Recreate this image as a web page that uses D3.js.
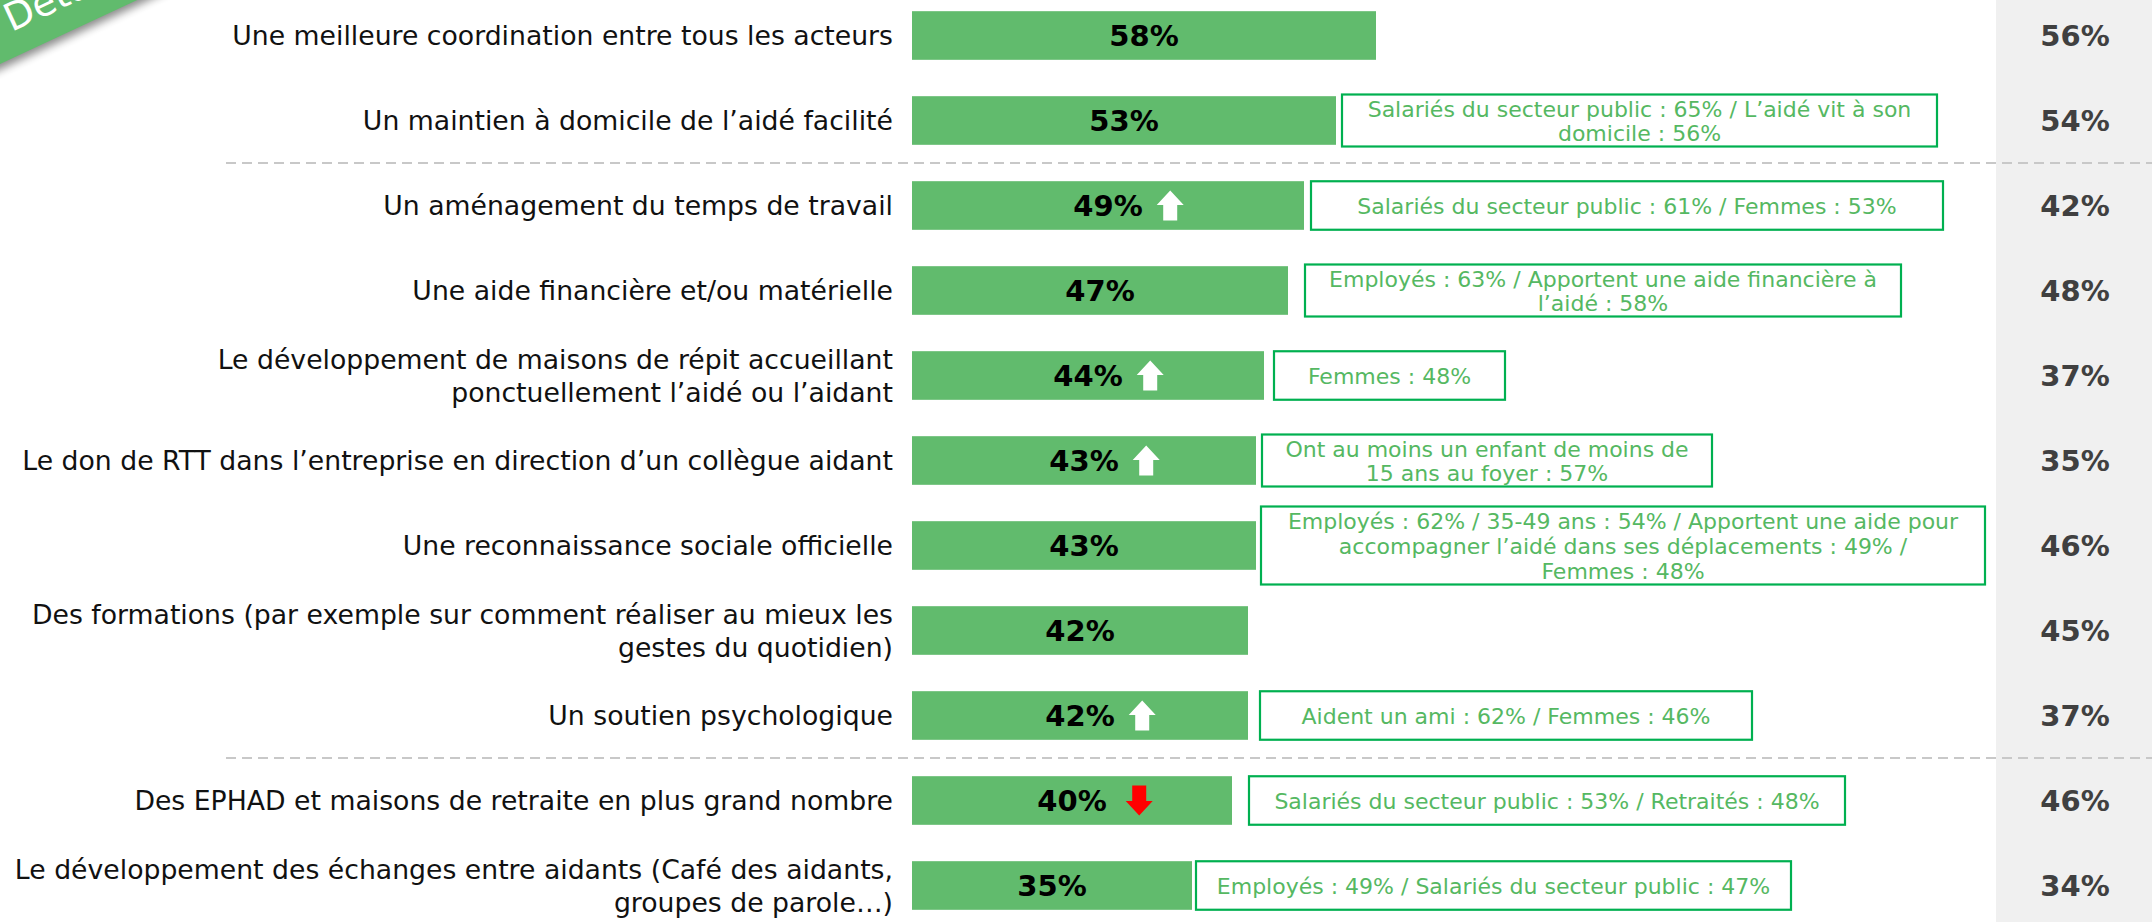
<!DOCTYPE html>
<html>
<head>
<meta charset="utf-8">
<script src="https://cdn.jsdelivr.net/npm/d3@7"></script>
<style>
  html, body { margin: 0; padding: 0; background: #ffffff; overflow: hidden; }
  svg { display: block; }
</style>
</head>
<body>
<svg id="chart" width="2152" height="922"></svg>
<script>
// ---- Data -------------------------------------------------------------
const categories = [
  "Une meilleure coordination entre tous les acteurs",
  "Un maintien à domicile de l’aidé facilité",
  "Un aménagement du temps de travail",
  "Une aide financière et/ou matérielle",
  "Le développement de maisons de répit accueillant\nponctuellement l’aidé ou l’aidant",
  "Le don de RTT dans l’entreprise en direction d’un collègue aidant",
  "Une reconnaissance sociale officielle",
  "Des formations (par exemple sur comment réaliser au mieux les\ngestes du quotidien)",
  "Un soutien psychologique",
  "Des EPHAD et maisons de retraite en plus grand nombre",
  "Le développement des échanges entre aidants (Café des aidants,\ngroupes de parole…)"
];

// Current wave (%)
const scores = [58, 53, 49, 47, 44, 43, 43, 42, 42, 40, 35];

// Previous wave (%), shown in the grey column
const previousScores = [56, 54, 42, 48, 37, 35, 46, 45, 37, 46, 34];

// Significant evolution versus the previous wave
const trends = ["", "", "up", "", "up", "up", "", "", "up", "down", ""];

// Sub-group call-outs
const notes = [
  "",
  "Salariés du secteur public : 65% / L’aidé vit à son\ndomicile : 56%",
  "Salariés du secteur public : 61% / Femmes : 53%",
  "Employés : 63% / Apportent une aide financière à\nl’aidé : 58%",
  "Femmes : 48%",
  "Ont au moins un enfant de moins de\n15 ans au foyer : 57%",
  "Employés : 62% / 35-49 ans : 54% / Apportent une aide pour\naccompagner l’aidé dans ses déplacements : 49% /\nFemmes : 48%",
  "",
  "Aident un ami : 62% / Femmes : 46%",
  "Salariés du secteur public : 53% / Retraités : 48%",
  "Employés : 49% / Salariés du secteur public : 47%"
];

// Groups are separated by a dashed rule after these rows
const separatorsAfter = [1, 8];

const bannerText = "Détail";

// ---- Layout -----------------------------------------------------------
const W = 2152, H = 922;
const GREEN = "#61bb6d";
const BOX_STROKE = "#00b050";
const NOTE_TEXT = "#55b862";
const FONT = "'DejaVu Sans', Verdana, sans-serif";

// call-out box: gap after the bar end and box width, per row
const noteGap   = [0, 6, 7, 17, 10, 6, 5, 0, 12, 17, 4];
const noteWidth = [0, 595, 632, 596, 231, 450, 724, 0, 492, 596, 595];

const svg = d3.select("#chart");

const x = d3.scaleLinear().domain([0, 100]).range([912, 1712]);
const y = d3.scaleBand()
  .domain(d3.range(categories.length))
  .range([-7, 928])
  .paddingInner(0.428)
  .paddingOuter(0.214);
const cy = i => y(i) + y.bandwidth() / 2;

// grey column for the previous wave
svg.append("rect")
  .attr("x", 1996).attr("y", 0)
  .attr("width", W - 1996).attr("height", H)
  .attr("fill", "#f0f0f0");

// dashed group separators
svg.selectAll("line.sep")
  .data(separatorsAfter)
  .join("line")
  .attr("class", "sep")
  .attr("x1", 226).attr("x2", W)
  .attr("y1", i => (y(i) + y.bandwidth() + y(i + 1)) / 2)
  .attr("y2", i => (y(i) + y.bandwidth() + y(i + 1)) / 2)
  .attr("stroke", "#c8c8c8")
  .attr("stroke-width", 2)
  .attr("stroke-dasharray", "10,6");

const rows = svg.selectAll("g.row")
  .data(categories.map((c, i) => ({ i, c })))
  .join("g")
  .attr("class", "row");

// category labels (right aligned, may wrap on two lines)
rows.each(function (d) {
  const lines = d.c.split("\n");
  const lh = 33;
  const t = d3.select(this).append("text")
    .attr("text-anchor", "end")
    .attr("font-family", FONT)
    .attr("font-size", 26.7)
    .attr("fill", "#111111");
  lines.forEach((ln, k) => {
    t.append("tspan")
      .attr("x", 893)
      .attr("y", cy(d.i) - (lines.length - 1) * lh / 2 + k * lh + 9.7)
      .text(ln);
  });
});

// bars
rows.append("rect")
  .attr("x", x(0))
  .attr("y", d => y(d.i))
  .attr("width", d => x(scores[d.i]) - x(0))
  .attr("height", y.bandwidth())
  .attr("fill", GREEN);

// value labels inside the bars
const valueLabels = rows.append("text")
  .attr("x", d => (x(0) + x(scores[d.i])) / 2)
  .attr("y", d => cy(d.i) + 10.8)
  .attr("text-anchor", "middle")
  .attr("font-family", FONT)
  .attr("font-weight", "bold")
  .attr("font-size", 29)
  .attr("fill", "#000000")
  .text(d => scores[d.i] + "%");

// evolution arrows
valueLabels.each(function (d) {
  const dir = trends[d.i];
  if (!dir) return;
  const tw = this.getComputedTextLength();
  const x0 = (x(0) + x(scores[d.i])) / 2 + tw / 2 + (dir === "up" ? 14 : 19);
  const top = cy(d.i) - 15;
  const w = 27, h = 30, head = 14.5, shaft = 14;
  const sL = x0 + (w - shaft) / 2, sR = x0 + (w + shaft) / 2;
  let p;
  if (dir === "up") {
    p = `M${x0 + w / 2},${top} L${x0 + w},${top + head} L${sR},${top + head} L${sR},${top + h} L${sL},${top + h} L${sL},${top + head} L${x0},${top + head} Z`;
  } else {
    p = `M${x0 + w / 2},${top + h} L${x0 + w},${top + h - head} L${sR},${top + h - head} L${sR},${top} L${sL},${top} L${sL},${top + h - head} L${x0},${top + h - head} Z`;
  }
  d3.select(this.parentNode).append("path")
    .attr("d", p)
    .attr("fill", dir === "up" ? "#ffffff" : "#ff0000");
});

// sub-group call-out boxes
rows.filter(d => notes[d.i]).each(function (d) {
  const g = d3.select(this);
  const lines = notes[d.i].split("\n");
  const bh = lines.length === 1 ? 48.5 : lines.length === 2 ? 52 : 78;
  const bx = x(scores[d.i]) + noteGap[d.i];
  const bw = noteWidth[d.i];
  g.append("rect")
    .attr("x", bx).attr("y", cy(d.i) - bh / 2)
    .attr("width", bw).attr("height", bh)
    .attr("fill", "#ffffff")
    .attr("stroke", BOX_STROKE)
    .attr("stroke-width", 2.2);
  const lh = lines.length === 3 ? 25 : 24;
  const t = g.append("text")
    .attr("text-anchor", "middle")
    .attr("font-family", FONT)
    .attr("font-size", 22)
    .attr("fill", NOTE_TEXT);
  lines.forEach((ln, k) => {
    t.append("tspan")
      .attr("x", bx + bw / 2)
      .attr("y", cy(d.i) - (lines.length - 1) * lh / 2 + k * lh + 8)
      .text(ln);
  });
});

// previous wave values
rows.append("text")
  .attr("x", 2075)
  .attr("y", d => cy(d.i) + 10.8)
  .attr("text-anchor", "middle")
  .attr("font-family", FONT)
  .attr("font-weight", "bold")
  .attr("font-size", 29)
  .attr("fill", "#404040")
  .text(d => previousScores[d.i] + "%");

// corner ribbon
const defs = svg.append("defs");
defs.append("filter").attr("id", "ribbonShadow")
  .attr("x", "-20%").attr("y", "-50%").attr("width", "140%").attr("height", "200%")
  .append("feGaussianBlur").attr("stdDeviation", 4);

const ribbon = svg.append("g").attr("transform", "translate(0,64) rotate(-25)");
ribbon.append("rect")
  .attr("x", -80).attr("y", -80).attr("width", 420).attr("height", 80)
  .attr("fill", "#000000").attr("opacity", 0.45)
  .attr("transform", "translate(0,5)")
  .attr("filter", "url(#ribbonShadow)");
ribbon.append("rect")
  .attr("x", -80).attr("y", -80).attr("width", 420).attr("height", 80)
  .attr("fill", GREEN);
ribbon.append("text")
  .attr("x", 24).attr("y", -24)
  .attr("font-family", FONT)
  .attr("font-size", 38)
  .attr("fill", "#ffffff")
  .text(bannerText);
</script>
</body>
</html>
